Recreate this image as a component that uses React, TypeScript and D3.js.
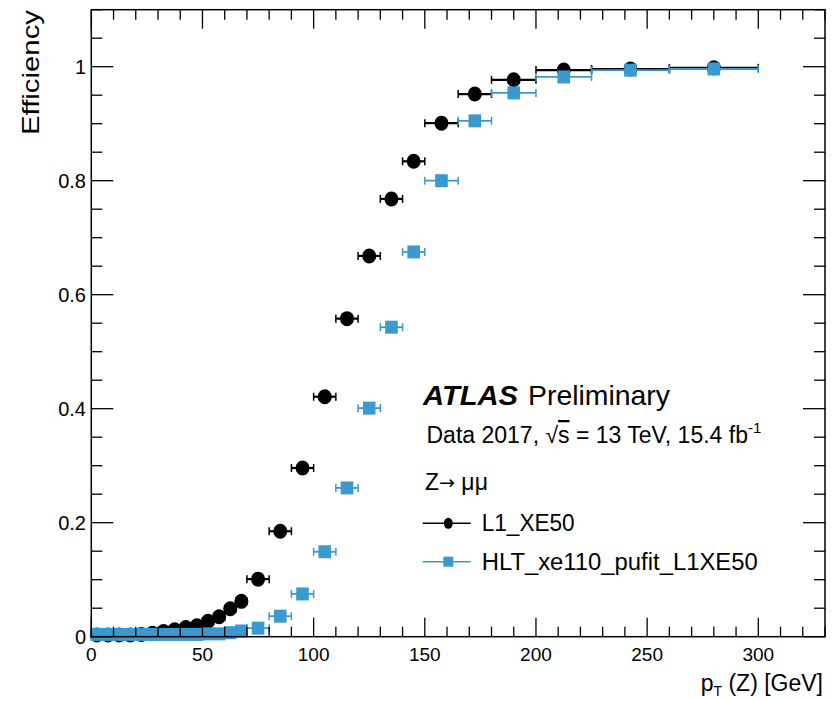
import React from "react";
import * as d3 from "d3";

// Bin edges in pT(Z) [GeV]
const binEdges: number[] = [
  0, 5, 10, 15, 20, 25, 30, 35, 40, 45, 50, 55, 60, 65, 70,
  80, 90, 100, 110, 120, 130, 140, 150, 165, 180, 200, 225, 260, 300,
];

// L1_XE50 efficiency per bin
const l1Values: number[] = [
  0.003, 0.003, 0.003, 0.003, 0.004, 0.006, 0.009, 0.012, 0.016, 0.019, 0.027, 0.035, 0.049, 0.062,
  0.101, 0.185, 0.296, 0.421, 0.558, 0.668, 0.768, 0.834,
  0.901, 0.952, 0.977, 0.994, 0.996, 0.998,
];

// HLT_xe110_pufit_L1XE50 efficiency per bin
const hltValues: number[] = [
  0.004, 0.004, 0.004, 0.004, 0.004, 0.004, 0.004, 0.004, 0.004, 0.004, 0.005, 0.005, 0.007, 0.010,
  0.015, 0.036, 0.075, 0.149, 0.261, 0.401, 0.543, 0.675,
  0.800, 0.905, 0.954, 0.982, 0.994, 0.996,
];

const xMajorTicks: number[] = [0, 50, 100, 150, 200, 250, 300];
const yMajorTicks: number[] = [0, 0.2, 0.4, 0.6, 0.8, 1];
const yTickLabels: string[] = ["0", "0.2", "0.4", "0.6", "0.8", "1"];

const seriesNames: string[] = ["L1_XE50", "HLT_xe110_pufit_L1XE50"];
const seriesColors: string[] = ["#000000", "#3a99cf"];
const legendWidths: number[] = [93, 276];

const FONT = "'Liberation Sans', Arial, Helvetica, sans-serif";

export default function App() {
  const W = 840;
  const H = 701;
  const left = 91.3;
  const right = 825;
  const top = 9.7;
  const bottom = 636.7;

  const x = d3.scaleLinear().domain([0, 330]).range([left, right]);
  const y = d3.scaleLinear().domain([0, 1.1]).range([bottom, top]);

  const xMinor = d3.range(0, 331, 10);
  const yMinor = d3.range(0, 1.1001, 0.05);

  const bins = binEdges.slice(0, -1).map((lo, i) => ({
    lo,
    hi: binEdges[i + 1],
    c: (lo + binEdges[i + 1]) / 2,
  }));

  const capH = 4;

  const renderSeries = (vals: number[], idx: number) => {
    const col = seriesColors[idx];
    const lw = idx === 0 ? 2.2 : 1.8;
    return (
      <g key={idx}>
        {bins.map((b, i) => {
          const yy = y(vals[i]);
          return (
            <g key={"e" + i} stroke={col} strokeWidth={lw}>
              <line x1={x(b.lo)} x2={x(b.hi)} y1={yy} y2={yy} />
              <line x1={x(b.lo)} x2={x(b.lo)} y1={yy - capH} y2={yy + capH} strokeWidth={1.5} />
              <line x1={x(b.hi)} x2={x(b.hi)} y1={yy - capH} y2={yy + capH} strokeWidth={1.5} />
            </g>
          );
        })}
        {bins.map((b, i) => {
          const cx = x(b.c);
          const cy = y(vals[i]);
          return idx === 0 ? (
            <ellipse key={"m" + i} cx={cx} cy={cy} rx={7} ry={7.5} fill={col} />
          ) : (
            <rect key={"m" + i} x={cx - 6.3} y={cy - 6.5} width={12.6} height={13} fill={col} />
          );
        })}
      </g>
    );
  };

  return (
    <svg width={W} height={H} style={{ position: "absolute", left: 0, top: 0, background: "#fff" }}>
      <rect x={0} y={0} width={W} height={H} fill="#fff" />

      {/* data */}
      {renderSeries(l1Values, 0)}
      {renderSeries(hltValues, 1)}

      {/* frame */}
      <rect x={left} y={top} width={right - left} height={bottom - top} fill="none" stroke="#000" strokeWidth={1.5} />

      {/* ticks */}
      <g stroke="#000" strokeWidth={1.3}>
        {xMinor.map((v) => {
          const major = v % 50 === 0;
          const len = major ? 19 : 10;
          return (
            <g key={"xt" + v}>
              <line x1={x(v)} x2={x(v)} y1={bottom} y2={bottom - len} />
              <line x1={x(v)} x2={x(v)} y1={top} y2={top + len} />
            </g>
          );
        })}
        {yMinor.map((v, i) => {
          const major = i % 4 === 0;
          const len = major ? 22 : 11;
          return (
            <g key={"yt" + i}>
              <line x1={left} x2={left + len} y1={y(v)} y2={y(v)} />
              <line x1={right} x2={right - len} y1={y(v)} y2={y(v)} />
            </g>
          );
        })}
      </g>

      {/* tick labels */}
      <g fontFamily={FONT} fontSize={19} fill="#000">
        {xMajorTicks.map((v) => (
          <text key={"xl" + v} x={x(v)} y={661} textAnchor="middle">
            {v}
          </text>
        ))}
      </g>
      <g fontFamily={FONT} fontSize={20} fill="#000">
        {yMajorTicks.map((v, i) => (
          <text key={"yl" + v} x={86} y={y(v) + 7.5} textAnchor="end">
            {yTickLabels[i]}
          </text>
        ))}
      </g>

      {/* axis titles */}
      <text
        fontFamily={FONT}
        fontSize={24}
        transform={`translate(39,10) rotate(-90)`}
        textAnchor="end"
        textLength={125}
        lengthAdjust="spacingAndGlyphs"
      >
        Efficiency
      </text>
      <text fontFamily={FONT} fontSize={23} x={823} y={691} textAnchor="end">
        p<tspan fontSize={14} dy={5}>T</tspan>
        <tspan dy={-5}> (Z) [GeV]</tspan>
      </text>

      {/* ATLAS label */}
      <text fontFamily={FONT} fontSize={28} x={423} y={405}>
        <tspan fontWeight="bold" fontStyle="italic" textLength={95} lengthAdjust="spacingAndGlyphs">
          ATLAS
        </tspan>
        <tspan x={528} textLength={142} lengthAdjust="spacingAndGlyphs">Preliminary</tspan>
      </text>
      <text fontFamily={FONT} fontSize={23} x={426.5} y={443}>
        Data 2017, √<tspan style={{ textDecoration: "overline" }}>s</tspan> = 13 TeV, 15.4 fb
        <tspan fontSize={15} dy={-10}>-1</tspan>
      </text>
      <text fontFamily={FONT} fontSize={23} x={425} y={490}>
        Z<tspan fontFamily="'DejaVu Sans', sans-serif" fontSize={19} dy={-1}>→</tspan>
        <tspan dy={1}> μμ</tspan>
      </text>

      {/* legend */}
      {seriesNames.map((name, i) => {
        const ly = i === 0 ? 523.3 : 561.7;
        const col = seriesColors[i];
        return (
          <g key={"lg" + i}>
            <line x1={422.7} x2={470.7} y1={ly} y2={ly} stroke={col} strokeWidth={i === 0 ? 1.6 : 1.4} />
            {i === 0 ? (
              <ellipse cx={448.3} cy={ly} rx={4.5} ry={5.5} fill={col} />
            ) : (
              <rect x={443.3} y={ly - 5} width={10} height={10} fill={col} />
            )}
            <text
              fontFamily={FONT}
              fontSize={23}
              x={481.7}
              y={ly + 8}
              textLength={legendWidths[i]}
              lengthAdjust="spacingAndGlyphs"
            >
              {name}
            </text>
          </g>
        );
      })}
    </svg>
  );
}
